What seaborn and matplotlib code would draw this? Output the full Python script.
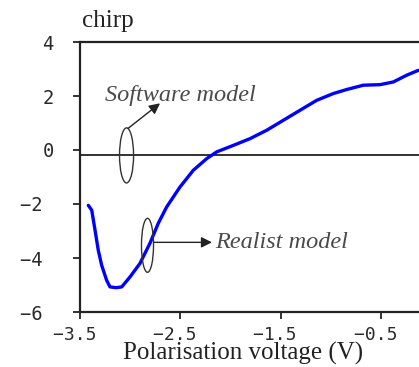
import matplotlib
matplotlib.use("Agg")
import matplotlib.pyplot as plt
from matplotlib.patches import Ellipse
import seaborn as sns
import pandas as pd

# Chirp versus polarisation voltage
voltage = [-3.417, -3.383, -3.350, -3.318, -3.284, -3.234, -3.201, -3.140, -3.084,
           -3.001, -2.902, -2.802, -2.719, -2.636, -2.503, -2.370, -2.237, -2.137,
           -1.972, -1.805, -1.639, -1.473, -1.307, -1.140, -0.975, -0.841, -0.675,
           -0.509, -0.376, -0.243, -0.127]
chirp = [-2.05, -2.23, -2.97, -3.71, -4.27, -4.83, -5.07, -5.10, -5.07,
         -4.70, -4.20, -3.45, -2.71, -2.11, -1.37, -0.75, -0.32, -0.07,
         0.17, 0.42, 0.73, 1.10, 1.47, 1.84, 2.09, 2.24, 2.40,
         2.42, 2.52, 2.77, 2.95]

x_ticks = [-3.5, -2.5, -1.5, -0.5]
x_tick_labels = ["-3.5", "-2.5", "-1.5", "-0.5"]
y_ticks = [-6, -4, -2, 0, 2, 4]
y_tick_labels = ["-6", "-4", "-2", "0", "2", "4"]

reference_level = -0.2
y_label = "chirp"
x_label = "Polarisation voltage (V)"
software_label = "Software model"
realist_label = "Realist model"

sns.set_style("ticks")
plt.rcParams["font.family"] = ["DejaVu Sans"]

fig = plt.figure(figsize=(4.19, 3.67), dpi=100)
ax = fig.add_axes([80 / 419, 55 / 367, 339 / 419, 270 / 367])

df = pd.DataFrame({"voltage": voltage, "chirp": chirp})
sns.lineplot(data=df, x="voltage", y="chirp", ax=ax, color="#0000ff",
             linewidth=2.4, sort=False, legend=False)

ax.axhline(reference_level, color="#222222", linewidth=1.3, zorder=1)

ax.set_xlim(-3.5, -0.12)
ax.set_ylim(-6, 4)

for side in ["left", "bottom", "top"]:
    ax.spines[side].set_visible(True)
    ax.spines[side].set_color("#222222")
    ax.spines[side].set_linewidth(1.6)
ax.spines["right"].set_visible(False)


def tick_text(lab):
    # negative numbers keep a trailing blank so the digits line up
    lab = lab.replace("-", "\u2212")
    return lab + " " if lab.startswith("\u2212") else lab


ax.set_xticks(x_ticks)
ax.set_xticklabels([tick_text(t) for t in x_tick_labels],
                   family="DejaVu Sans Mono", fontsize=13, color="#2a2a2a")
ax.set_yticks(y_ticks)
ax.set_yticklabels([tick_text(t) for t in y_tick_labels],
                   family="DejaVu Sans Mono", fontsize=13.5, color="#2a2a2a")
ax.tick_params(axis="both", direction="out", length=5, width=1.3, color="#222222")
ax.tick_params(axis="y", pad=14)
ax.tick_params(axis="x", pad=5)
ax.set_xlabel("")
ax.set_ylabel("")

fig.text(243 / 419, (367 - 360) / 367, x_label, ha="center", va="baseline",
         family="Liberation Serif", fontsize=18, color="#222222")
fig.text(82 / 419, (367 - 27) / 367, y_label, ha="left", va="baseline",
         family="Liberation Serif", fontsize=18, color="#222222")

# model markers: ellipses around the curves with pointer arrows
ax.add_patch(Ellipse((-3.036, -0.2), 0.14, 2.04, fill=False,
                     edgecolor="#333333", linewidth=1.0, zorder=3))
ax.add_patch(Ellipse((-2.827, -3.53), 0.12, 2.0, fill=False,
                     edgecolor="#333333", linewidth=1.0, zorder=3))

ax.annotate("", xy=(-2.702, 1.73), xytext=(-3.021, 0.80),
            arrowprops=dict(arrowstyle="-|>", color="#222222", lw=1.0,
                            mutation_scale=16, shrinkA=0, shrinkB=0))
ax.annotate("", xy=(-2.184, -3.42), xytext=(-2.762, -3.42),
            arrowprops=dict(arrowstyle="-|>", color="#222222", lw=1.0,
                            mutation_scale=16, shrinkA=0, shrinkB=0))

ax.text(-2.503, 2.03, software_label, ha="center", va="center",
        family="Liberation Serif", style="italic", fontsize=17.5, color="#4a4a4a")
ax.text(-2.154, -3.42, realist_label, ha="left", va="center",
        family="Liberation Serif", style="italic", fontsize=17.5, color="#4a4a4a")

fig.savefig("out.png", dpi=100)
